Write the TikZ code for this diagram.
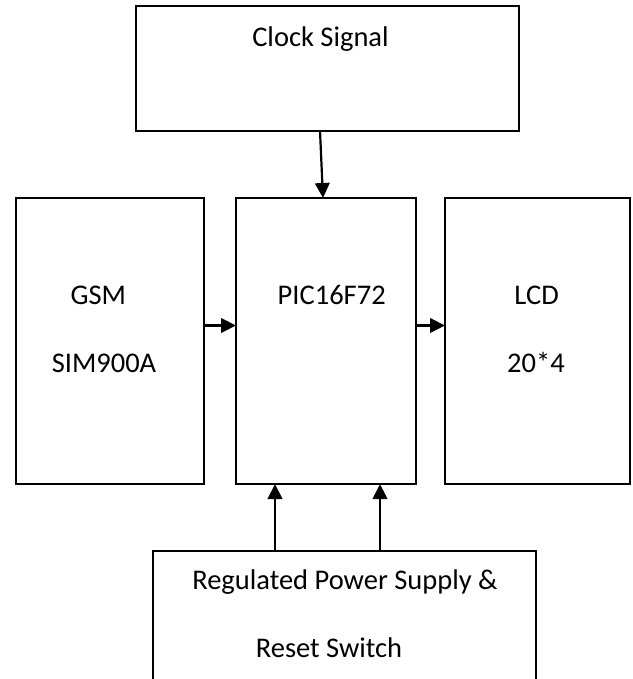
\documentclass[tikz,border=0pt]{standalone}
\usepackage{fontspec}
\setmainfont{Carlito}
\usetikzlibrary{arrows.meta}

\begin{document}
\begin{tikzpicture}[
  x=1pt, y=-1pt,
  block/.style={rectangle, draw=black, line width=1.8pt, inner sep=0pt, outer sep=0pt},
  txt/.style={anchor=base, inner sep=0pt, font=\fontsize{28.5}{34}\selectfont},
  line/.style={-{Triangle[length=15pt,width=14.5pt]}, line width=2.2pt}
]
\useasboundingbox (0,0) rectangle (632,679);
\clip (0,0) rectangle (632,679);

\node[block, minimum width=383pt, minimum height=125pt] (clock) at (327.5,68.5) {};
\node[block, minimum width=188pt, minimum height=286pt] (gsm) at (110,341) {};
\node[block, minimum width=180pt, minimum height=286pt] (pic) at (326,341) {};
\node[block, minimum width=185pt, minimum height=286pt] (lcd) at (537.5,341) {};
\node[block, minimum width=383pt, minimum height=160pt] (power) at (344.2,630.7) {};

\node[txt] (clocktxt) at (320.5,47) {Clock Signal};
\node[txt] (gsmtxt) at (98.4,304) {GSM};
\node[txt] (simtxt) at (104,372.7) {SIM900A};
\node[txt] (pictxt) at (331.7,304) {PIC16F72};
\node[txt] (lcdtxt) at (536.6,304) {LCD};
\node[txt] (sizetxt) at (536,372.7) {20*4};
\node[txt] (powertxt) at (345,589) {Regulated Power Supply \&};
\node[txt] (resettxt) at (329,657) {Reset Switch};

\draw[line] ([xshift=-7.5pt]clock.south) -- ([xshift=-3pt]pic.north);
\draw[line] ([yshift=15.5pt]gsm.east) -- ([yshift=15.5pt]pic.west);
\draw[line] ([yshift=15.5pt]pic.east) -- ([yshift=15.5pt]lcd.west);
\draw[line] ([xshift=-51pt]pic.south |- power.north) -- ([xshift=-51pt]pic.south);
\draw[line] ([xshift=54pt]pic.south |- power.north) -- ([xshift=54pt]pic.south);
\end{tikzpicture}
\end{document}
